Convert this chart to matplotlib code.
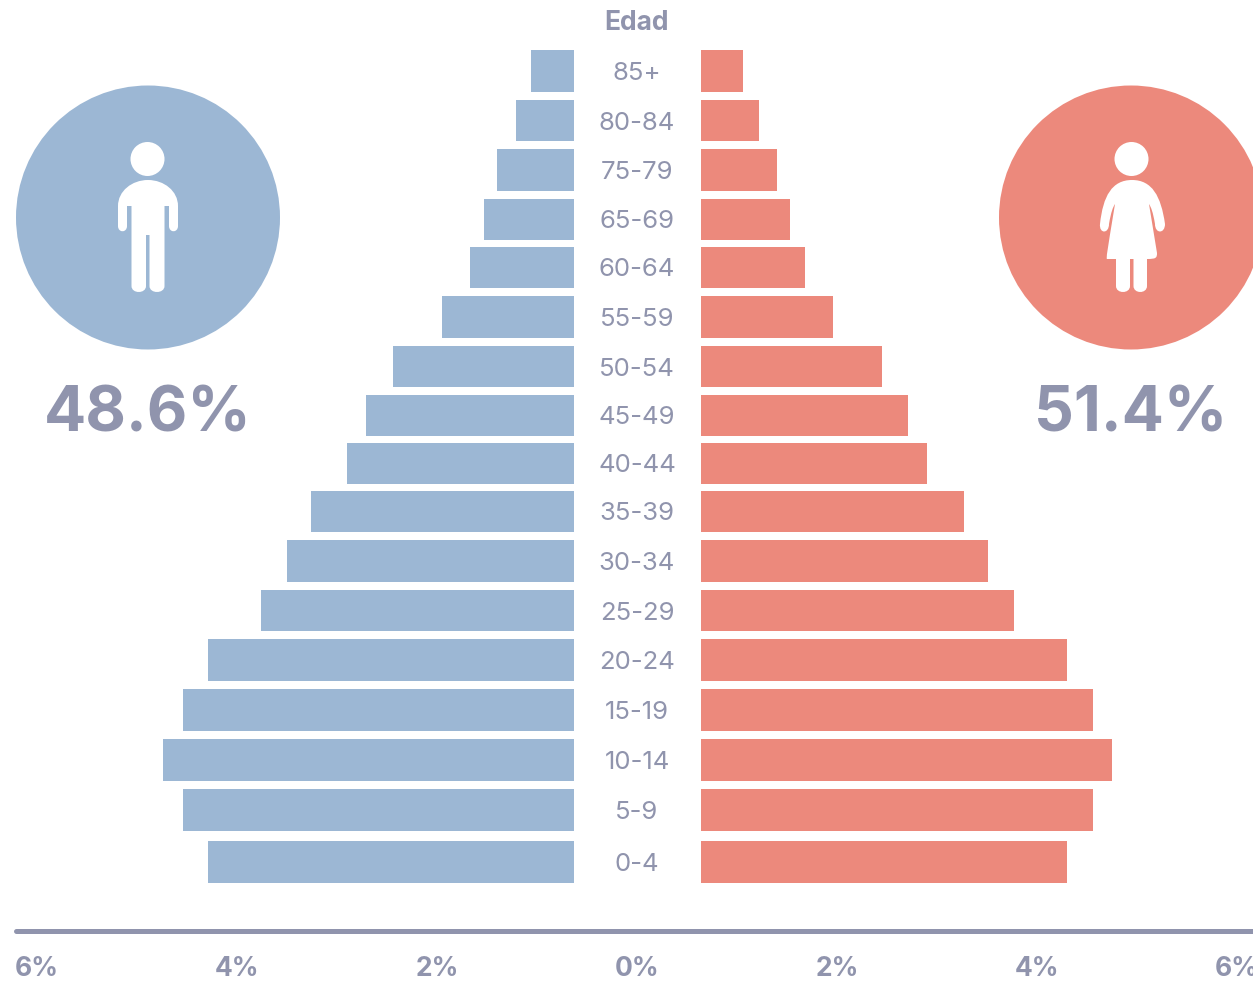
import matplotlib
matplotlib.use("Agg")
import matplotlib.pyplot as plt
from matplotlib.patches import Circle, PathPatch
from matplotlib.path import Path

plt.rcParams['font.family'] = ['Inter', 'DejaVu Sans']

# ---- data ----
age_groups = ['85+', '80-84', '75-79', '65-69', '60-64', '55-59', '50-54', '45-49', '40-44',
              '35-39', '30-34', '25-29', '20-24', '15-19', '10-14', '5-9', '0-4']
male_pct = [1.06, 1.21, 1.40, 1.53, 1.67, 1.95, 2.44, 2.71, 2.90, 3.26, 3.50, 3.76, 4.29, 4.54, 4.74, 4.54, 4.29]
female_pct = [1.06, 1.22, 1.40, 1.53, 1.68, 1.96, 2.45, 2.71, 2.90, 3.27, 3.51, 3.77, 4.30, 4.56, 4.75, 4.56, 4.30]
tick_values = [-6, -4, -2, 0, 2, 4, 6]
tick_labels = ['6%', '4%', '2%', '0%', '2%', '4%', '6%']
male_total = '48.6%'
female_total = '51.4%'
axis_title = 'Edad'

# ---- layout / style ----
W, H = 1253, 982
row_centres = [71, 120.5, 170, 219.5, 267.5, 317, 366.5, 415.5, 463.5, 511.5, 561, 610.5, 660, 710, 760, 810, 862]
BAR_H = 41.5
GAP_L, GAP_R = 0.63, 0.64
BLUE, RED, GREY = '#9CB7D4', '#EC897C', '#9094AD'
AXIS_Y = 931

fig = plt.figure(figsize=(W / 100, H / 100), dpi=100, facecolor='white')
ax = fig.add_axes([0, (H - AXIS_Y) / H, 1, AXIS_Y / H])
ax.set_xlim(-6.37, 6.16)
ax.set_ylim(AXIS_Y, 0)

ax.barh(row_centres, [-(v - GAP_L) for v in male_pct], left=-GAP_L, height=BAR_H, color=BLUE, linewidth=0)
ax.barh(row_centres, [v - GAP_R for v in female_pct], left=GAP_R, height=BAR_H, color=RED, linewidth=0)

for y, lab in zip(row_centres, age_groups):
    ax.text(0, y, lab, ha='center', va='center_baseline', fontsize=18.5, color=GREY)
ax.text(0.0, 20, axis_title, ha='center', va='center_baseline', fontsize=19, color=GREY, fontweight='bold')

for s in ('top', 'left', 'right'):
    ax.spines[s].set_visible(False)
sp = ax.spines['bottom']
sp.set_color(GREY)
sp.set_linewidth(3.6)
sp.set_capstyle('round')
sp.set_bounds(-6.21, 6.16)
ax.set_yticks([])
ax.set_xticks(tick_values)
ax.set_xticklabels(tick_labels, fontsize=19, color=GREY, fontweight='bold')
ax.tick_params(axis='x', length=0, pad=18)

# ---- overlay in pixels: circles, icons, totals ----
ov = fig.add_axes([0, 0, 1, 1], facecolor='none')
ov.set_xlim(0, W)
ov.set_ylim(H, 0)
ov.axis('off')

ov.add_patch(Circle((148, 217.5), 132, color=BLUE, lw=0))
ov.add_patch(Circle((1131, 217.5), 132, color=RED, lw=0))


def white(path_verts, codes):
    ov.add_patch(PathPatch(Path(path_verts, codes), facecolor='white', edgecolor='white', lw=0))


M, L, C, Z = Path.MOVETO, Path.LINETO, Path.CURVE4, Path.CLOSEPOLY

# male icon
ov.add_patch(Circle((147.5, 159), 17, color='white', lw=0))
male_v = [(118, 226), (118, 206), (118, 191), (132, 180), (148, 180), (164, 180), (178, 191), (178, 206),
          (178, 226), (178, 233), (169, 233), (169, 226), (169, 206), (164.5, 206), (164.5, 286),
          (164.5, 294), (149.5, 294), (149.5, 286), (149.5, 235), (146, 235), (146, 286), (146, 294),
          (131.5, 294), (131.5, 286), (131.5, 206), (127, 206), (127, 226), (127, 233), (118, 233), (118, 226), (118, 226)]
male_c = [M, L, C, C, C, C, C, C, L, C, C, C, L, L, L, C, C, C, L, L, L, C, C, C, L, L, L, C, C, C, Z]
white(male_v, male_c)

# female icon
ov.add_patch(Circle((1131.5, 159), 17, color='white', lw=0))
female_v = [(1100, 224), (1103, 196), (1112, 180), (1132, 180), (1152, 180), (1161, 196), (1165, 224),
            (1165, 234), (1155, 234), (1155, 224), (1153, 212), (1151, 207), (1149, 204),
            (1157, 253), (1157, 258), (1156, 259), (1147, 259), (1147, 286), (1147, 294), (1133.5, 294), (1133.5, 286),
            (1133.5, 259), (1130, 259), (1130, 286), (1130, 294), (1116, 294), (1116, 286), (1116, 259),
            (1107, 259), (1106, 258), (1107, 253), (1115, 204), (1113, 207), (1111, 212), (1109, 224),
            (1109, 234), (1099, 234), (1100, 224), (1100, 224)]
female_c = [M, C, C, C, C, C, C, C, C, C, C, C, C, L, C, C, C, L, C, C, C, L, L, L, C, C, C, L, L, C, C, L, C, C, C, C, C, C, Z]
white(female_v, female_c)

ov.text(148, 408, male_total, ha='center', va='center_baseline', fontsize=45, fontweight='bold', color=GREY)
ov.text(1131, 408, female_total, ha='center', va='center_baseline', fontsize=45, fontweight='bold', color=GREY)

fig.savefig('out.png', dpi=100)
